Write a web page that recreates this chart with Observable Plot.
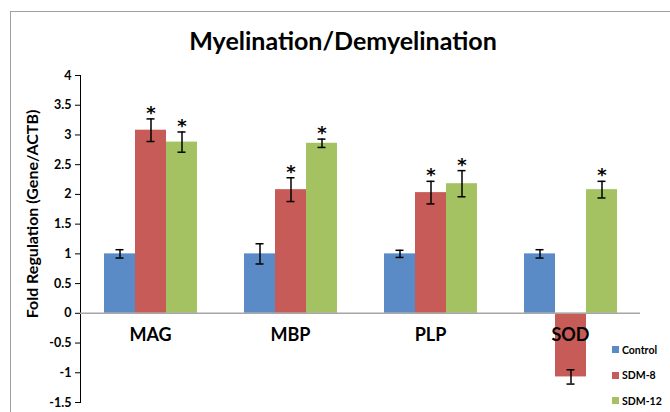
<!DOCTYPE html>
<html>
<head>
<meta charset="utf-8">
<script src="https://cdn.jsdelivr.net/npm/d3@7"></script>
<script src="https://cdn.jsdelivr.net/npm/@observablehq/plot@0.6"></script>
<style>
  html, body { margin: 0; padding: 0; background: #fff; }
  #wrap { position: relative; width: 670px; height: 412px; overflow: hidden; font-family: Lato, "Open Sans", sans-serif; }
  #frame { position: absolute; left: 10px; top: 11px; width: 700px; height: 450px; border-top: 1.5px solid #a0a0a0; border-left: 1.5px solid #a0a0a0; }
  #title { position: absolute; left: 0; width: 686px; top: 25px; text-align: center; font-size: 25px; font-weight: bold; color: #000; }
  #ylabel { position: absolute; left: 31px; top: 214px; transform: translate(-50%, -50%) rotate(-90deg); white-space: nowrap; font-size: 16px; font-weight: bold; }
  #legend { position: absolute; left: 612px; top: 337px; font-size: 10.5px; font-weight: bold; }
  #legend .item { display: flex; align-items: center; height: 25.5px; }
  #legend .sw { width: 7px; height: 7px; margin-right: 3px; }
  svg [aria-label="y-axis tick"] { stroke: #8c8c8c; }
  svg [aria-label="y-axis line"], svg [aria-label="y-axis rule"] { stroke: #8c8c8c; }
  svg [aria-label="y-axis tick label"] { fill: #000; font-size: 12.5px; font-weight: bold; }
</style>
</head>
<body>
<div id="wrap">
  <div id="chart"></div>
  <div id="frame"></div>
  <div id="title"></div>
  <div id="ylabel"></div>
  <div id="legend"></div>
</div>
<script>
const titleText = "Myelination/Demyelination";
const yLabel = "Fold Regulation (Gene/ACTB)";
const genes = ["MAG", "MBP", "PLP", "SOD"];
const series = ["Control", "SDM-8", "SDM-12"];
const colors = ["#5b8bc6", "#c75b58", "#a5c263"];
const control    = [1.00, 1.00, 1.00, 1.00];
const controlErr = [0.07, 0.17, 0.06, 0.07];
const sdm8       = [3.08, 2.08, 2.03, -1.07];
const sdm8Err    = [0.19, 0.20, 0.19, 0.12];
const sdm12      = [2.88, 2.86, 2.18, 2.08];
const sdm12Err   = [0.17, 0.07, 0.22, 0.14];
const controlSig = [false, false, false, false];
const sdm8Sig    = [true, true, true, false];
const sdm12Sig   = [true, true, true, true];
const yTicks = [-1.5, -1, -0.5, 0, 0.5, 1, 1.5, 2, 2.5, 3, 3.5, 4];

const values = [control, sdm8, sdm12];
const errs = [controlErr, sdm8Err, sdm12Err];
const sigs = [controlSig, sdm8Sig, sdm12Sig];
const rows = [];
genes.forEach((g, gi) => series.forEach((s, si) => {
  rows.push({gene: g, series: s, value: values[si][gi], err: errs[si][gi], sig: sigs[si][gi]});
}));
const sigRows = rows.filter(d => d.sig);

const chart = Plot.plot({
  width: 670,
  height: 412,
  marginLeft: 80,
  marginRight: 30,
  marginTop: 75,
  marginBottom: 10,
  style: {fontFamily: "Lato, 'Open Sans', sans-serif", fontWeight: "bold", background: "transparent", overflow: "visible"},
  fx: {domain: genes, padding: 0, axis: null},
  x: {domain: series, paddingInner: 0, paddingOuter: 0.734, axis: null},
  y: {domain: [-1.5, 4], ticks: yTicks, tickFormat: d => String(d), tickSize: 5, tickPadding: 4, line: true, label: null},
  color: {domain: series, range: colors},
  marks: [
    Plot.barY(rows, {fx: "gene", x: "series", y: "value", fill: "series"}),
    Plot.ruleY([0], {stroke: "#a6a6a6", strokeWidth: 1.5}),
    Plot.ruleX(rows, {fx: "gene", x: "series", y1: d => d.value - d.err, y2: d => d.value + d.err, stroke: "#000", strokeWidth: 1.5}),
    Plot.tickY(rows, {fx: "gene", x: "series", y: d => d.value - d.err, stroke: "#000", strokeWidth: 1.5, insetLeft: 11.5, insetRight: 11.5}),
    Plot.tickY(rows, {fx: "gene", x: "series", y: d => d.value + d.err, stroke: "#000", strokeWidth: 1.5, insetLeft: 11.5, insetRight: 11.5}),
    Plot.text(sigRows, {fx: "gene", x: "series", y: d => d.value + d.err, text: () => "*", fontSize: 18, fontWeight: "bold", fontFamily: "DejaVu Sans", fill: "#000", lineAnchor: "bottom", dy: 0}),
    Plot.text(genes, {fx: d => d, y: () => 0, text: d => d, fontSize: 18, fontWeight: "bold", fill: "#000", dy: 22})
  ]
});
document.getElementById("chart").appendChild(chart);
document.getElementById("title").textContent = titleText;
document.getElementById("ylabel").textContent = yLabel;
const legend = document.getElementById("legend");
series.forEach((s, i) => {
  const item = document.createElement("div");
  item.className = "item";
  const sw = document.createElement("div");
  sw.className = "sw";
  sw.style.background = colors[i];
  const t = document.createElement("span");
  t.textContent = s;
  item.appendChild(sw);
  item.appendChild(t);
  legend.appendChild(item);
});
</script>
</body>
</html>
